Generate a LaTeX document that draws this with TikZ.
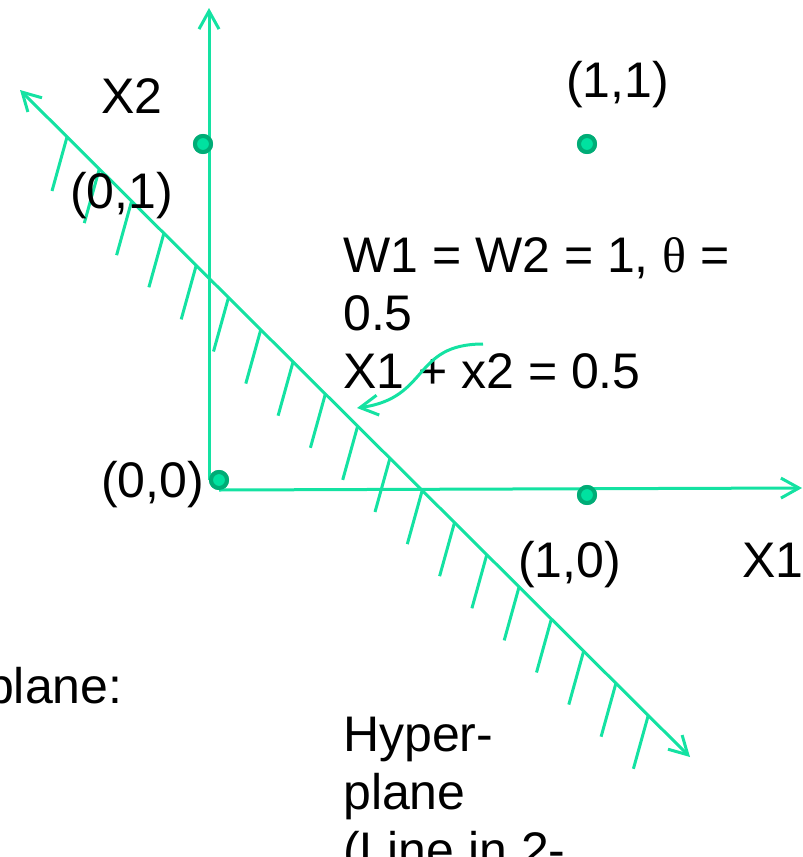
\documentclass[tikz,border=0pt]{standalone}
\usepackage{fontspec}
\setmainfont{Liberation Sans}
\newfontfamily\greekfont{Liberation Serif}
\usetikzlibrary{arrows.meta,positioning}

\definecolor{hyper}{RGB}{20,226,162}
\definecolor{dotfill}{RGB}{0,226,160}
\definecolor{dotring}{RGB}{0,172,118}

\begin{document}
\begin{tikzpicture}[
  x=1pt, y=-1pt,
  axis/.style={draw=hyper, line width=3pt,
    -{Straight Barb[length=18pt, width=20pt, line width=3pt]}},
  hatch/.style={draw=hyper, line width=3pt},
  dot/.style={circle, fill=dotfill, draw=dotring, line width=4pt,
    minimum size=16pt, inner sep=0pt},
  lbl/.style={anchor=base west, inner sep=0pt, align=left,
    font=\fontsize{50}{58}\selectfont}
]
\useasboundingbox (0,0) rectangle (803,857);

% input points
\node[dot] (o) at (219,480) {};
\node[dot] (p01) at (203,144) {};
\node[dot] (p11) at (587,144) {};
\node[dot] (p10) at (587,495) {};

% axes
\coordinate (ytip) at (209,8);
\coordinate (xtip) at (802,488);
\draw[axis] (o.west) -- (o.west |- ytip);
\draw[axis] (o.south) -- (xtip);

% hyperplane with hatching
\coordinate (hup) at (20,90);
\coordinate (hdown) at (690,757);
\draw[axis, {Straight Barb[length=18pt, width=20pt, line width=3pt]}-{Straight Barb[length=18pt, width=20pt, line width=3pt]}] (hdown) -- (hup);
\foreach \k in {0,...,18}
  \draw[hatch] ({67+32.3*\k},{137+32.1*\k}) -- ++(-15,54);

% redraw points on top
\node[dot] at (o) {};
\node[dot] at (p01) {};
\node[dot] at (p11) {};
\node[dot] at (p10) {};

% labels
\node[lbl] (x2) at (101,113) {X2};
\node[lbl] (x1) at (742,577) {X1};
\node[lbl] (l11) at (566,97) {(1,1)};
\node[lbl] (l01) at (70,208) {(0,1)};
\node[lbl] (l00) at (101,497) {(0,0)};
\node[lbl] (l10) at (518,577) {(1,0)};
\node[lbl] (weights) at (343,388) {W1 = W2 = 1, {\greekfont θ} =\\0.5\\X1 + x2 = 0.5};
\node[lbl] (plane) at (-14,703) {plane:};
\node[lbl] (hyperlbl) at (343,867) {Hyper-\\plane\\(Line in 2-};

% pointer from equation to line
\coordinate (eqref) at (483,344);
\coordinate (lineref) at (357,408);
\draw[axis] (eqref) .. controls (412,344) and (430,398) .. (lineref);
\end{tikzpicture}
\end{document}
